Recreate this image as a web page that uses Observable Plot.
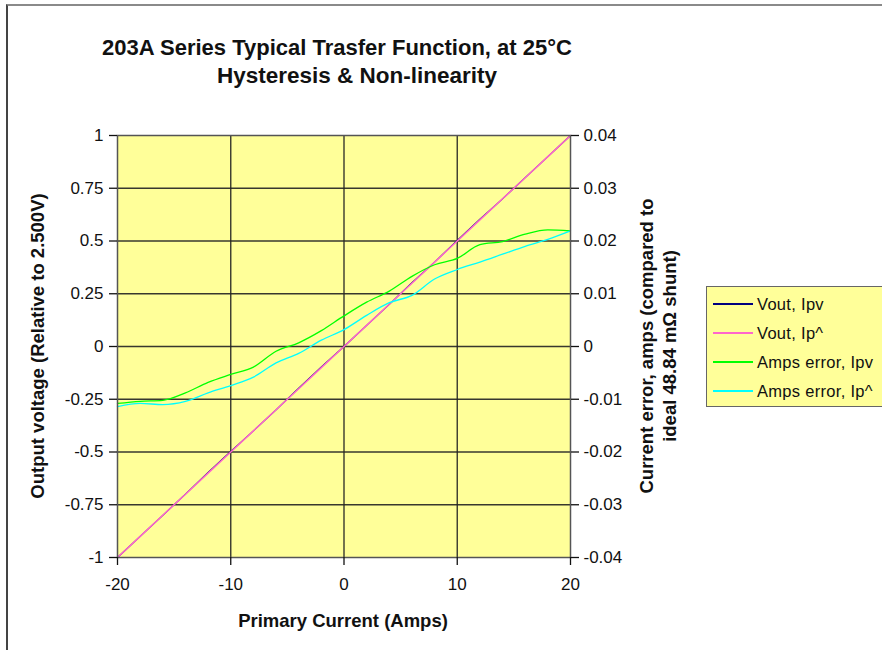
<!DOCTYPE html>
<html><head><meta charset="utf-8">
<script src="https://cdn.jsdelivr.net/npm/d3@7"></script>
<script src="https://cdn.jsdelivr.net/npm/@observablehq/plot@0.6"></script>
<style>
html,body{margin:0;padding:0;overflow:hidden;}
body{width:882px;height:650px;background:#fff;position:relative;font-family:"Liberation Sans",Arial,sans-serif;color:#000;}
#outer{position:absolute;left:6px;top:4px;width:1000px;height:700px;border-top:2px solid #8a8a8a;border-left:2px solid #444;box-sizing:border-box;}
#chart{position:absolute;left:0;top:0;}
.t{position:absolute;white-space:nowrap;}
.title{font-weight:bold;font-size:22px;transform:translateX(-50%);color:#111;}
.atitle{font-weight:bold;font-size:18.5px;color:#111;}
#legend{position:absolute;left:706px;top:286px;width:220px;height:121px;background:#ffff99;border:1.5px solid #666;box-sizing:border-box;}
.li{position:absolute;left:6px;font-size:16.5px;height:20px;line-height:20px;color:#111;}
.sw{position:absolute;left:0;top:9px;width:40px;height:1.5px;}
.lt{position:absolute;left:44px;top:0;white-space:nowrap;letter-spacing:0.3px;}
</style></head>
<body>
<div id="outer"></div>
<div id="chart"></div>
<div class="t title" style="left:337px;top:35px;">203A Series Typical Trasfer Function, at 25°C</div>
<div class="t title" style="left:357px;top:63px;font-size:22.5px;">Hysteresis &amp; Non-linearity</div>
<div class="t atitle" style="left:343px;top:610px;transform:translateX(-50%);">Primary Current (Amps)</div>
<div class="t atitle" style="left:38px;top:346px;transform:translate(-50%,-50%) rotate(-90deg);">Output voltage (Relative to 2.500V)</div>
<div class="t atitle" style="left:647px;top:346px;transform:translate(-50%,-50%) rotate(-90deg);">Current error, amps (compared to</div>
<div class="t atitle" style="left:670px;top:346px;transform:translate(-50%,-50%) rotate(-90deg);">ideal 48.84 mΩ shunt)</div>
<div id="legend"></div>
<script>
// ---- data ----
const current = [-20,-18,-16,-14,-12,-10,-8,-6,-4,-2,0,2,4,6,8,10,12,14,16,18,20];
const voutIpv = [-1.0,-0.900,-0.800,-0.700,-0.597,-0.497,-0.400,-0.300,-0.197,-0.097,0.000,0.100,0.200,0.303,0.400,0.503,0.603,0.700,0.800,0.900,1.0];
const voutIpUp = [-1.0,-0.900,-0.800,-0.700,-0.600,-0.500,-0.400,-0.300,-0.200,-0.100,0.000,0.100,0.200,0.300,0.400,0.500,0.600,0.700,0.800,0.900,1.0];
const errIpv = [-0.0108,-0.0104,-0.0102,-0.0088,-0.0068,-0.0053,-0.0039,-0.0009,0.0007,0.0030,0.0058,0.0084,0.0105,0.0133,0.0155,0.0167,0.0193,0.0199,0.0213,0.0221,0.0219];
const errIpUp = [-0.0114,-0.0108,-0.0110,-0.0104,-0.0088,-0.0074,-0.0058,-0.0031,-0.0013,0.0012,0.0032,0.0059,0.0083,0.0097,0.0128,0.0146,0.0160,0.0175,0.0190,0.0203,0.0219];
const xTicks = [-20,-10,0,10,20];
const leftTicks = [-1,-0.75,-0.5,-0.25,0,0.25,0.5,0.75,1];
const rightTicks = [-0.04,-0.03,-0.02,-0.01,0,0.01,0.02,0.03,0.04];
const seriesNames = ["Vout, Ipv","Vout, Ip^","Amps error, Ipv","Amps error, Ip^"];
const seriesColors = ["#000080","#ff66cc","#00ff00","#00ffff"];

const ampsPerVolt = rightTicks[rightTicks.length-1] / leftTicks[leftTicks.length-1];
const rows = current.map((c,i)=>({c, v1:voutIpv[i], v2:voutIpUp[i], e1:errIpv[i], e2:errIpUp[i]}));
const inner = v => v !== -20 && v !== 20 && v !== -1 && v !== 1;

const chart = Plot.plot({
  width: 882, height: 650,
  marginLeft: 117, marginRight: 312, marginTop: 135, marginBottom: 93,
  x: {domain: [-20, 20]},
  y: {domain: [-1, 1]},
  style: {fontFamily: "Liberation Sans, Arial, sans-serif", fontSize: "17px", color: "#111", background: "transparent"},
  marks: [
    Plot.frame({fill: "#ffff99"}),
    Plot.gridX(xTicks.filter(inner), {stroke: "#222", strokeOpacity: 0.9, strokeWidth: 1.4}),
    Plot.gridY(leftTicks.filter(inner), {stroke: "#222", strokeOpacity: 0.9, strokeWidth: 1.4}),
    Plot.line(rows, {x: "c", y: "v1", stroke: seriesColors[0], strokeWidth: 1.1}),
    Plot.line(rows, {x: "c", y: "v2", stroke: seriesColors[1], strokeWidth: 1.5}),
    Plot.line(rows, {x: "c", y: d => d.e1 / ampsPerVolt, stroke: seriesColors[2], strokeWidth: 1.3, curve: "monotone-x"}),
    Plot.line(rows, {x: "c", y: d => d.e2 / ampsPerVolt, stroke: seriesColors[3], strokeWidth: 1.3, curve: "monotone-x"}),
    Plot.frame({stroke: "#555", strokeWidth: 1.5}),
    Plot.axisY(leftTicks, {anchor: "left", tickSize: 8, tickPadding: 6, tickFormat: d => String(d), label: null, strokeWidth: 1.3}),
    Plot.axisY(leftTicks, {anchor: "right", tickSize: 8, tickPadding: 5, tickFormat: d => String(rightTicks[leftTicks.indexOf(d)]), label: null, strokeWidth: 1.3}),
    Plot.axisX(xTicks, {anchor: "bottom", tickSize: 8, tickPadding: 12, tickFormat: d => String(d), label: null, strokeWidth: 1.3})
  ]
});
document.getElementById("chart").appendChild(chart);

const legend = document.getElementById("legend");
seriesNames.forEach((name, i) => {
  const el = document.createElement("div");
  el.className = "li";
  el.style.top = (7 + i * 29) + "px";
  const sw = document.createElement("div");
  sw.className = "sw";
  sw.style.background = seriesColors[i];
  const lt = document.createElement("div");
  lt.className = "lt";
  lt.textContent = name;
  el.appendChild(sw);
  el.appendChild(lt);
  legend.appendChild(el);
});
</script>
</body></html>
